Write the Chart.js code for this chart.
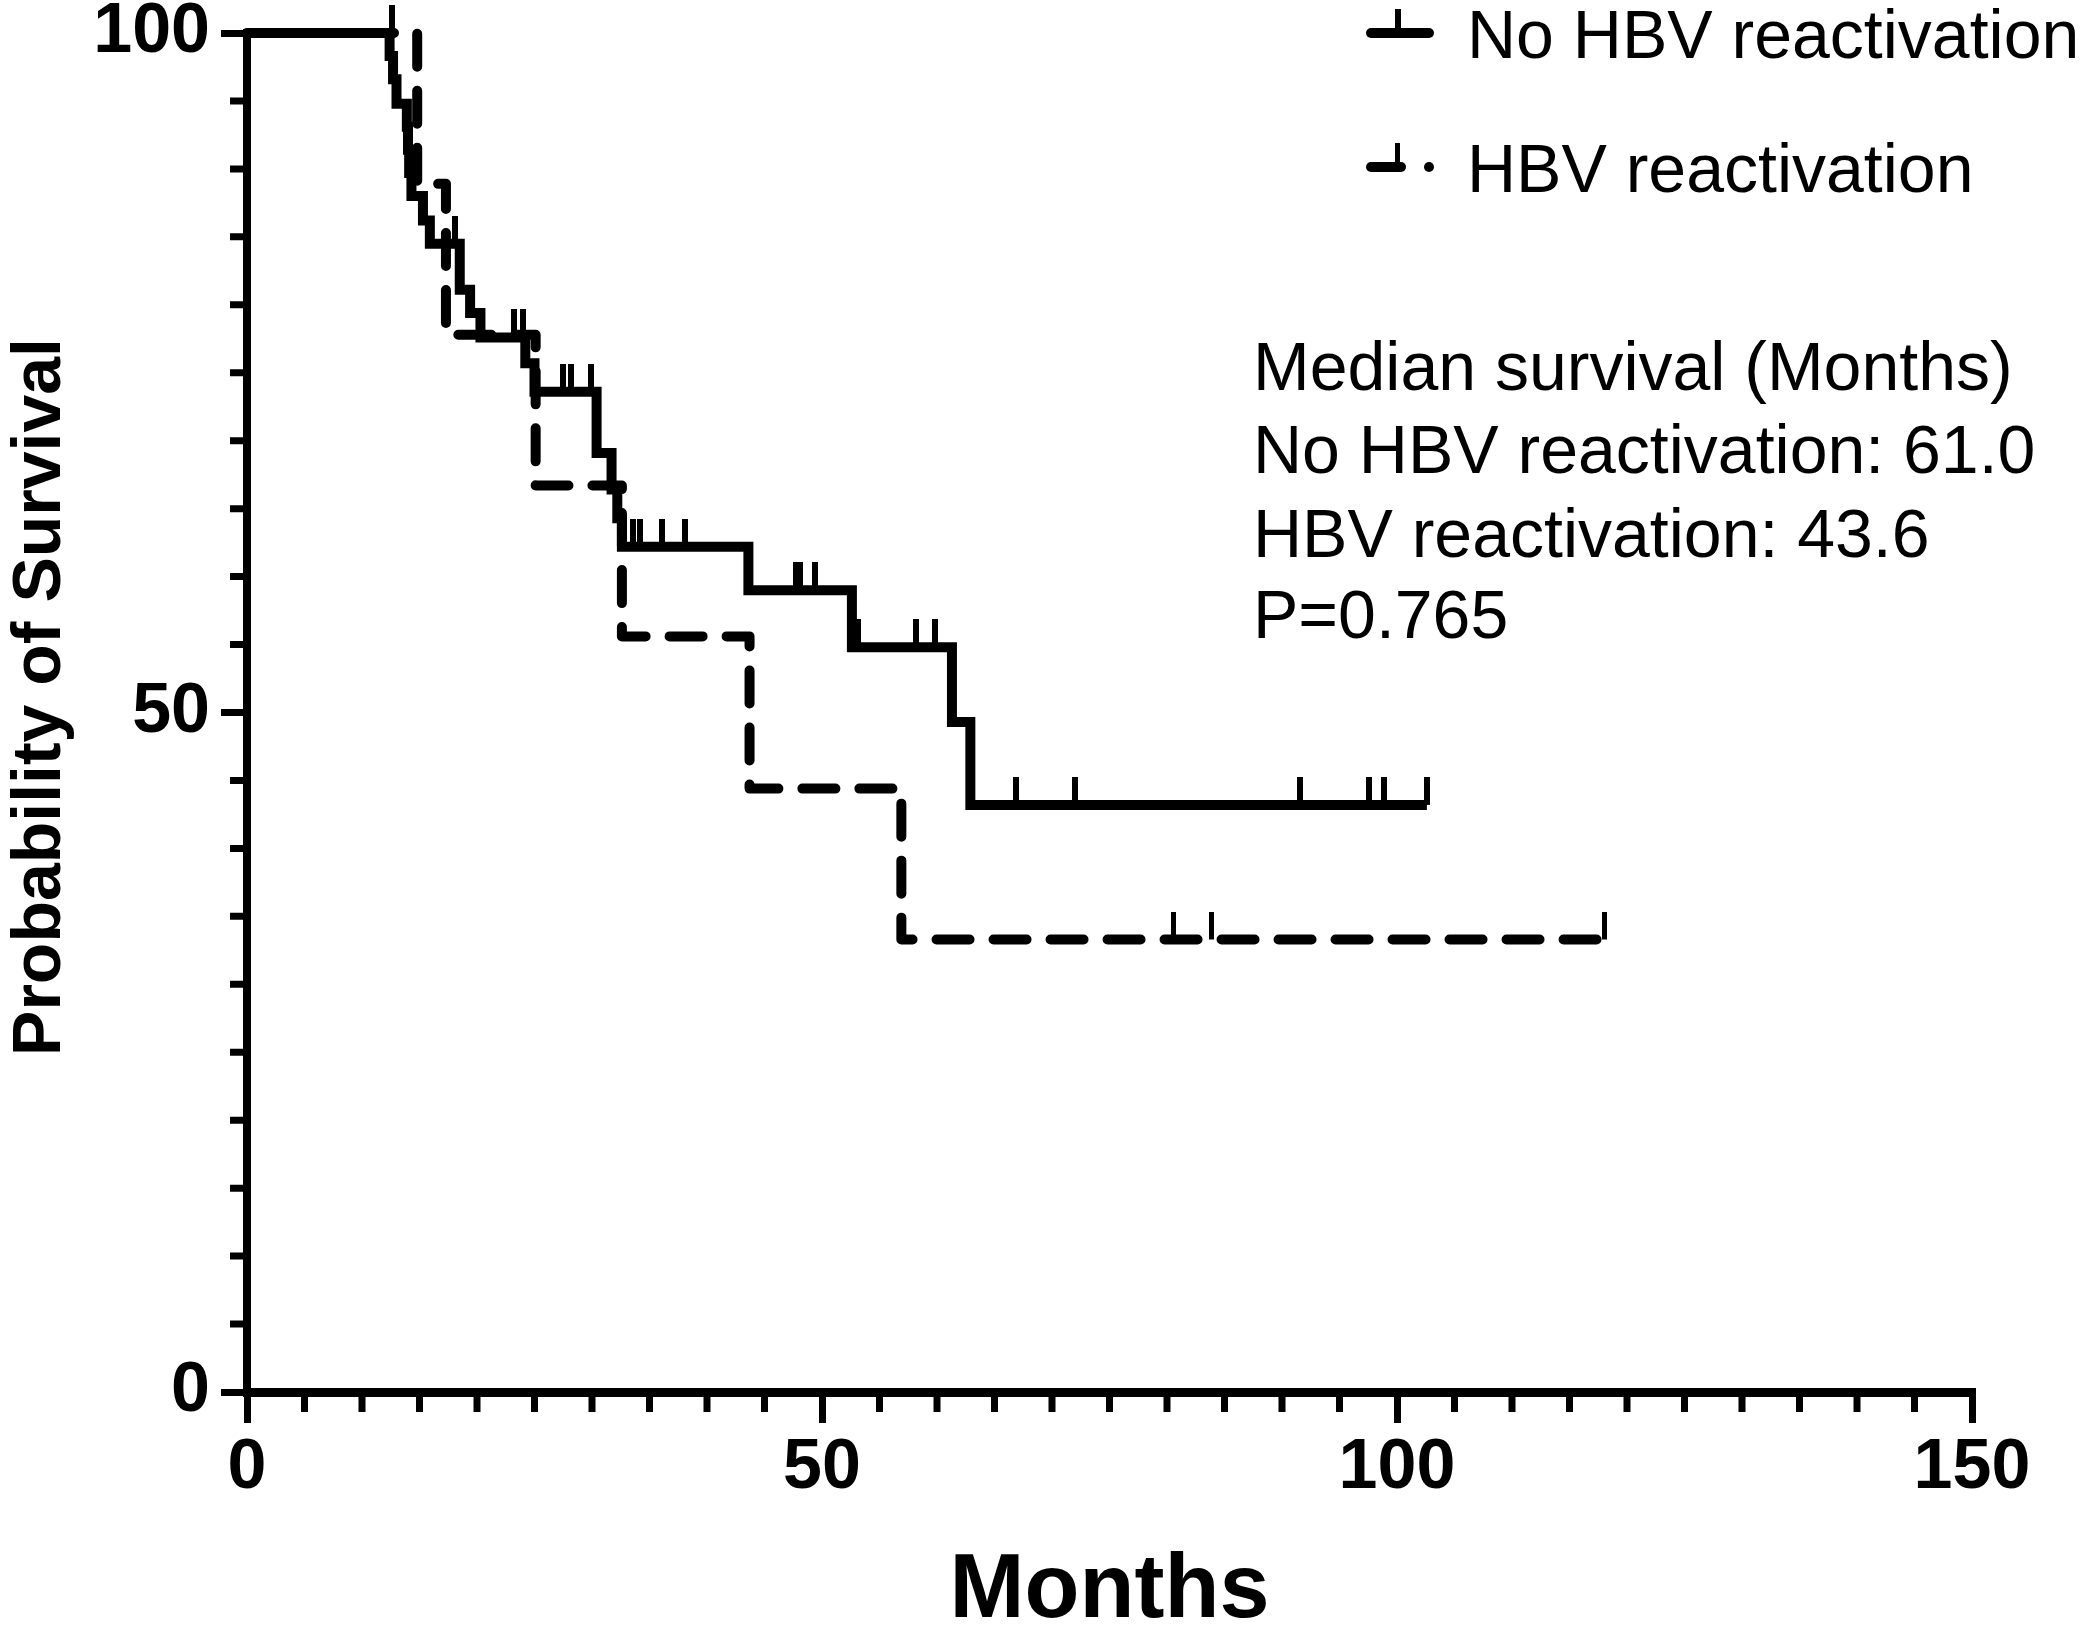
<!DOCTYPE html>
<html>
<head>
<meta charset="utf-8">
<style>
html,body{margin:0;padding:0;background:#fff;}
#wrap{width:2092px;height:1630px;position:relative;}
canvas{display:block;}
</style>
<script src="https://cdn.jsdelivr.net/npm/chart.js@4.4.1/dist/chart.umd.min.js"></script>
</head>
<body>
<div id="wrap"><canvas id="c" width="2092" height="1630"></canvas></div>
<script>
// ---------------- data ----------------
const seriesNames = ['No HBV reactivation', 'HBV reactivation'];

const noReactMonths   = [0, 12.4, 12.7, 13.0, 13.9, 14.0, 14.1, 14.3, 15.3, 15.9, 18.5, 19.4, 20.3, 24.2, 25.0, 30.4, 31.7, 32.2, 32.6, 43.6, 52.6, 61.3, 62.9, 102.6];
const noReactSurvival = [100, 98.3, 96.6, 94.8, 93.1, 91.4, 89.7, 88.0, 86.2, 84.5, 81.1, 79.4, 77.6, 75.7, 73.6, 69.1, 66.4, 64.3, 62.2, 59.0, 54.8, 49.3, 43.2, 43.2];

const noReactCensorMonths   = [12.6, 18.1, 23.2, 24.0, 27.5, 28.2, 29.9, 33.6, 34.2, 36.1, 38.1, 47.7, 48.1, 49.4, 53.1, 58.2, 59.8, 66.9, 72.0, 91.6, 97.6, 98.9, 102.6];
const noReactCensorSurvival = [100, 84.5, 77.6, 77.6, 73.6, 73.6, 73.6, 62.2, 62.2, 62.2, 62.2, 59.0, 59.0, 59.0, 54.8, 54.8, 54.8, 43.2, 43.2, 43.2, 43.2, 43.2, 43.2];

const reactMonths   = [0, 14.8, 17.3, 25.1, 32.6, 43.7, 56.9, 118.0];
const reactSurvival = [100, 88.9, 77.8, 66.7, 55.6, 44.4, 33.3, 33.3];

const reactCensorMonths   = [80.6, 83.9, 118.0];
const reactCensorSurvival = [33.3, 33.3, 33.3];

const xTickValues = [0, 50, 100, 150];
const yTickValues = [0, 50, 100];
const xMinorStep = 5;
const yMinorStep = 5;

const xTitle = 'Months';
const yTitle = 'Probability of Survival';
const annotationLines = ['Median survival (Months)', 'No HBV reactivation: 61.0', 'HBV reactivation: 43.6', 'P=0.765'];

// ---------------- helpers ----------------
const FONT = '"Liberation Sans", Arial, Helvetica, sans-serif';
function zip(xs, ys) { return xs.map((x, i) => ({x: x, y: ys[i]})); }
function tickMark(w, h) {
  const c = document.createElement('canvas');
  c.width = w; c.height = h * 2;
  const g = c.getContext('2d');
  g.fillStyle = '#000';
  g.fillRect(0, 0, w, h);
  return c;
}

const minorTicks = {
  id: 'minorTicks',
  afterDraw(chart) {
    const ctx = chart.ctx;
    const xs = chart.scales.x, ys = chart.scales.y;
    ctx.save();
    ctx.strokeStyle = '#000';
    ctx.lineWidth = 7;
    ctx.beginPath();
    const axisY = ys.getPixelForValue(0);
    for (let v = xs.min; v <= xs.max; v += xMinorStep) {
      if (xTickValues.includes(v)) continue;
      const px = xs.getPixelForValue(v);
      ctx.moveTo(px, axisY);
      ctx.lineTo(px, axisY + 20);
    }
    const axisX = xs.getPixelForValue(0);
    for (let v = ys.min; v <= ys.max; v += yMinorStep) {
      if (yTickValues.includes(v)) continue;
      const py = ys.getPixelForValue(v);
      ctx.moveTo(axisX, py);
      ctx.lineTo(axisX - 17, py);
    }
    ctx.stroke();
    ctx.restore();
  }
};

const textLayer = {
  id: 'textLayer',
  afterDraw(chart) {
    const ctx = chart.ctx;
    const area = chart.chartArea;
    ctx.save();
    ctx.fillStyle = '#000';
    // axis titles
    ctx.font = 'bold 90px ' + FONT;
    ctx.textAlign = 'center';
    ctx.textBaseline = 'alphabetic';
    ctx.fillText(xTitle, (area.left + area.right) / 2, 1617);
    ctx.save();
    ctx.translate(60, 697);
    ctx.rotate(-Math.PI / 2);
    ctx.font = 'bold 68px ' + FONT;
    ctx.fillText(yTitle, 0, 0);
    ctx.restore();

    // legend
    ctx.strokeStyle = '#000';
    ctx.lineCap = 'round';
    ctx.lineWidth = 10;
    ctx.beginPath(); ctx.moveTo(1371, 33); ctx.lineTo(1429, 33); ctx.stroke();
    ctx.fillRect(1395, 9, 6, 24);
    ctx.beginPath(); ctx.moveTo(1371, 167); ctx.lineTo(1401, 167); ctx.stroke();
    ctx.fillRect(1395, 143, 5, 24);
    ctx.beginPath(); ctx.arc(1429, 167, 5, 0, Math.PI * 2); ctx.fill();
    ctx.font = '68px ' + FONT;
    ctx.textAlign = 'left';
    ctx.fillText(seriesNames[0], 1467, 58);
    ctx.fillText(seriesNames[1], 1467, 192);

    // annotation
    const baselines = [390, 473, 557, 638];
    annotationLines.forEach((t, i) => ctx.fillText(t, 1253, baselines[i]));
    ctx.restore();
  }
};

const tickFont = {family: FONT, size: 70, weight: 'bold', lineHeight: 1.2};

new Chart(document.getElementById('c'), {
  type: 'scatter',
  data: {
    datasets: [
      {
        label: seriesNames[0],
        data: zip(noReactMonths, noReactSurvival),
        showLine: true, stepped: true,
        borderColor: '#000', borderWidth: 10,
        borderCapStyle: 'butt', borderJoinStyle: 'miter',
        pointRadius: 0, clip: false
      },
      {
        label: seriesNames[1],
        data: zip(reactMonths, reactSurvival),
        showLine: true, stepped: true,
        borderColor: '#000', borderWidth: 10,
        borderDash: [33, 24], borderCapStyle: 'round', borderJoinStyle: 'round',
        pointRadius: 0, clip: false
      },
      {
        label: seriesNames[0] + ' censored',
        data: zip(noReactCensorMonths, noReactCensorSurvival),
        showLine: false,
        pointStyle: tickMark(6, 28), pointRadius: 10,
        clip: false
      },
      {
        label: seriesNames[1] + ' censored',
        data: zip(reactCensorMonths, reactCensorSurvival),
        showLine: false,
        pointStyle: tickMark(5, 27), pointRadius: 10,
        clip: false
      }
    ]
  },
  options: {
    responsive: false,
    animation: false,
    devicePixelRatio: 1,
    layout: {padding: {top: 33, right: 120, left: 0, bottom: 0}},
    plugins: {legend: {display: false}, tooltip: {enabled: false}},
    scales: {
      x: {
        type: 'linear', position: 'bottom', min: 0, max: 150,
        afterBuildTicks: s => { s.ticks = xTickValues.map(v => ({value: v})); },
        afterFit: s => { s.height = 238; s.paddingLeft = 0; s.paddingRight = 0; },
        ticks: {color: '#000', font: tickFont, padding: 4, maxRotation: 0, autoSkip: false},
        grid: {drawOnChartArea: false, drawTicks: true, tickLength: 31, tickWidth: 7, tickColor: '#000', color: '#000', lineWidth: 7},
        border: {display: true, color: '#000', width: 9},
        title: {display: false}
      },
      y: {
        type: 'linear', position: 'left', min: 0, max: 100,
        afterBuildTicks: s => { s.ticks = yTickValues.map(v => ({value: v})); },
        afterFit: s => { s.width = 247; s.paddingTop = 0; s.paddingBottom = 0; },
        ticks: {color: '#000', font: tickFont, padding: 11},
        grid: {drawOnChartArea: false, drawTicks: true, tickLength: 26, tickWidth: 7, tickColor: '#000', color: '#000', lineWidth: 7},
        border: {display: true, color: '#000', width: 8},
        title: {display: false}
      }
    }
  },
  plugins: [minorTicks, textLayer]
});
</script>
</body>
</html>
